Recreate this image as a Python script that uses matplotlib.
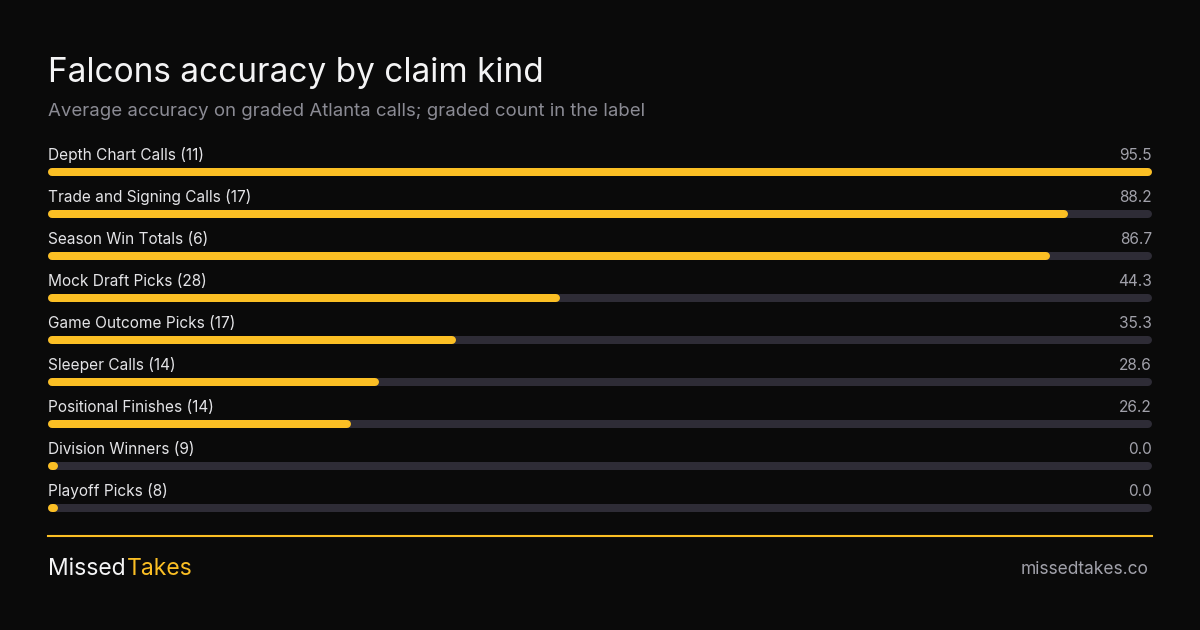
import matplotlib.pyplot as plt

categories = ["Depth Chart Calls", "Trade and Signing Calls", "Season Win Totals",
              "Mock Draft Picks", "Game Outcome Picks", "Sleeper Calls",
              "Positional Finishes", "Division Winners", "Playoff Picks"]
counts = [11, 17, 6, 28, 17, 14, 14, 9, 8]
accuracy = [95.5, 88.2, 86.7, 44.3, 35.3, 28.6, 26.2, 0.0, 0.0]

BG = "#0a0a0a"
YELLOW = "#fbbf24"
TRACK = "#2e2c36"
W, H = 1200, 630

plt.rcParams["font.family"] = ["Inter", "DejaVu Sans"]
fig = plt.figure(figsize=(12, 6.3), dpi=100, facecolor=BG)

# bar area 48..1152 px, rows centred at y=172 + 42*i px
left, right = 48, 1152
top_px, bot_px = 172 - 21, 172 + 42 * 8 + 21
ax = fig.add_axes([left / W, 1 - bot_px / H, (right - left) / W, (bot_px - top_px) / H])
ax.set_facecolor("none")
vmax = max(accuracy)
ax.set_xlim(0, vmax)
ax.set_ylim(len(categories) - 0.5, -0.5)
ax.axis("off")

lw = 8 * 72 / 100
c = vmax * 4 / (right - left)  # half a cap in data units
for i, v in enumerate(accuracy):
    ax.plot([c, vmax - c], [i, i], color=TRACK, lw=lw, solid_capstyle="round", clip_on=False)
    # zero values still show a small dot
    ax.plot([c, max(v - c, c * 1.6)], [i, i], color=YELLOW, lw=lw,
            solid_capstyle="round", clip_on=False)

tr = ax.get_yaxis_transform()
for i, (cat, n, v) in enumerate(zip(categories, counts, accuracy)):
    ax.text(0, i - 17 / 42, f"{cat} ({n})", transform=tr, ha="left", va="center",
            color="#e4e4e7", fontsize=11.1)
    ax.text(1, i - 17 / 42, f"{v:.1f}", transform=tr, ha="right",
            va="center", color="#a1a1aa", fontsize=11.1)

# header
fig.text(48 / W, 1 - 73 / H, "Falcons accuracy by claim kind", color="#f4f4f5",
         fontsize=24, ha="left", va="center")
fig.text(48 / W, 1 - 112 / H, "Average accuracy on graded Atlanta calls; graded count in the label",
         color="#8b8b94", fontsize=13.4, ha="left", va="center")

# footer
fig.add_artist(plt.Line2D([48 / W, 1152 / W], [1 - 536 / H, 1 - 536 / H], color=YELLOW, lw=1.5))
t = fig.text(48 / W, 1 - 569 / H, "Missed", color="#f4f4f5", fontsize=16.5, ha="left", va="center")
fig.canvas.draw()
bb = t.get_window_extent()
fig.text(bb.x1 / W + 1 / W, 1 - 569 / H, "Takes", color=YELLOW, fontsize=16.5, ha="left", va="center")
fig.text(1148 / W, 1 - 569 / H, "missedtakes.co", color="#a1a1aa", fontsize=12.5,
         ha="right", va="center")

fig.savefig("out.png", dpi=100, facecolor=BG)
